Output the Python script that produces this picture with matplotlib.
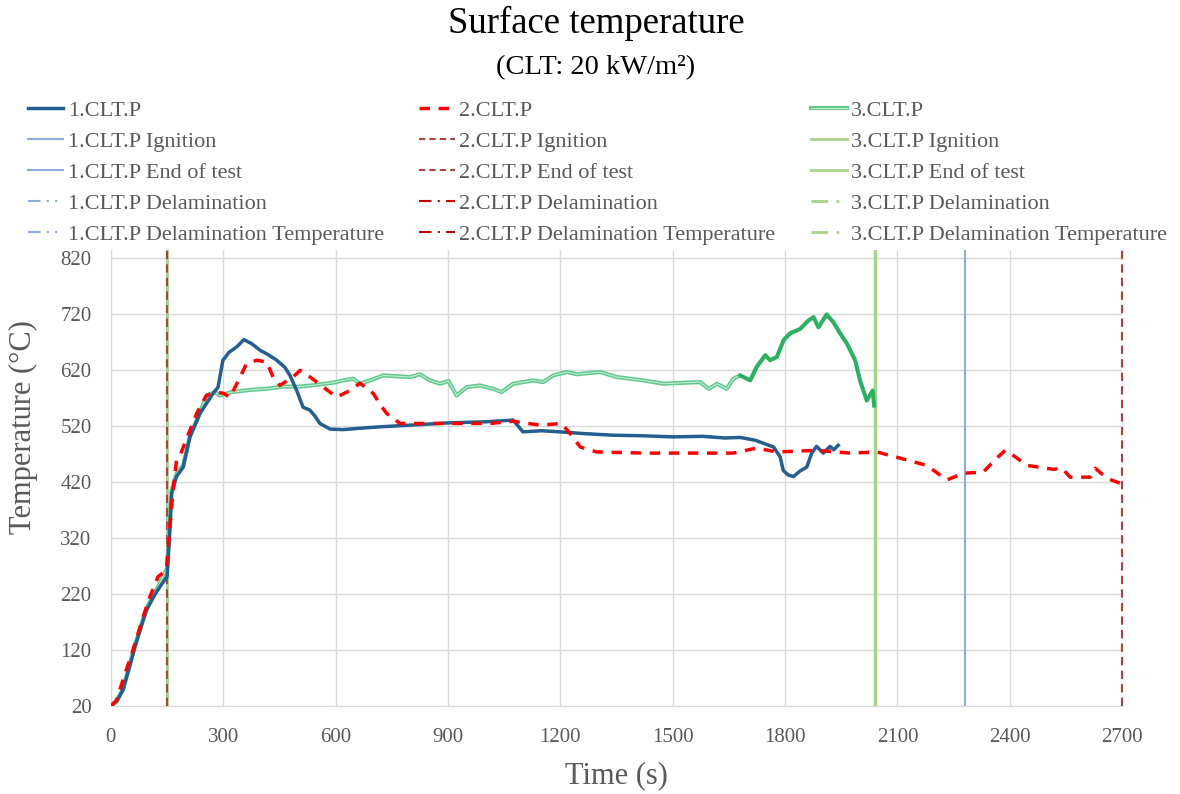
import matplotlib
matplotlib.use("Agg")
import matplotlib.pyplot as plt
from matplotlib.lines import Line2D

# data
t1 = [0, 15, 32, 50, 64, 80, 95, 110, 122, 136, 150, 156, 162, 175, 193, 211, 238, 273, 286, 299, 315, 336,
      355, 375, 398, 420, 443, 465, 478, 496, 513, 531, 545, 558, 585, 620, 656, 718, 800, 900, 1000, 1074,
      1100, 1150, 1199, 1260, 1341, 1420, 1501, 1580, 1640, 1680, 1720, 1769, 1787, 1795, 1808, 1822, 1840,
      1858, 1871, 1884, 1902, 1920, 1930, 1942]
T1 = [20, 28, 48, 90, 125, 160, 191, 210, 224, 238, 251, 320, 400, 430, 447, 501, 543, 579, 590, 638, 652, 662,
      675, 668, 656, 648, 638, 625, 611, 584, 554, 549, 538, 525, 515, 514, 516, 519, 522, 526, 528, 531,
      510, 512, 510, 507, 504, 503, 501, 502, 499, 500, 495, 483, 465, 441, 433, 430, 440,
      447, 472, 484, 472, 484, 478, 486]

t2 = [0, 15, 32, 59, 86, 104, 126, 148, 155, 165, 175, 184, 229, 255, 278, 300, 318, 345, 362, 389, 416, 433, 451,
      486, 505, 532, 567, 603, 638, 665, 700, 718, 736, 772, 896, 1012, 1074, 1146, 1203, 1226, 1253, 1297,
      1431, 1565, 1661, 1724, 1778, 1884, 1974, 2045, 2107, 2178, 2232, 2276, 2329, 2365, 2388, 2409, 2446,
      2516, 2539, 2561, 2615, 2628, 2659, 2695]
T2 = [20, 30, 66, 120, 179, 215, 251, 263, 320, 400, 459, 467, 543, 575, 581, 579, 572, 608, 632, 638, 635, 608, 593,
      608, 620, 608, 590, 572, 584, 597, 579, 560, 543, 525, 525, 525, 529, 522, 525, 507, 483, 474,
      472, 472, 472, 481, 474, 477, 472, 474, 463, 450, 424, 436, 438, 463, 477, 468, 450,
      443, 445, 429, 429, 445, 427, 418]

t3 = [0, 15, 32, 64, 95, 122, 150, 156, 162, 175, 193, 211, 238, 255, 278, 291, 322, 371, 416, 460, 505, 549,
      594, 620, 647, 665, 692, 727, 772, 799, 825, 852, 879, 901, 923, 950, 985, 1021, 1043, 1074, 1127, 1154,
      1181, 1217, 1244, 1306, 1351, 1422, 1476, 1502, 1573, 1596, 1618, 1644, 1662, 1680, 1707, 1724, 1747,
      1760, 1778, 1796, 1813, 1840, 1862, 1876, 1889, 1911, 1929, 1947, 1965, 1987, 2000, 2018, 2034, 2038]
T3 = [20, 28, 50, 128, 195, 228, 266, 330, 405, 435, 450, 503, 545, 575, 581, 575, 581, 585, 587, 591, 591, 594,
      598, 602, 605, 596, 602, 611, 609, 608, 613, 602, 596, 601, 575, 590, 593, 587, 581, 596, 602, 599,
      611, 617, 613, 617, 608, 602, 596, 597, 599, 587, 596, 587, 605, 611, 602, 626, 647,
      638, 644, 674, 686, 694, 709, 715, 697, 720, 706, 686, 668, 638, 602, 566, 584, 557]

ignition = [150, 150, 150]
end_test = [2280, 2700, 2040]

names = ["1.CLT.P", "2.CLT.P", "3.CLT.P"]

plt.rcParams["font.family"] = ["Liberation Serif"]
gray = "#595959"

fig = plt.figure(figsize=(11.8, 7.94), dpi=100)
ax = fig.add_axes([0.094, 0.111, 0.857, 0.574])

# vertical event lines
ax.axvline(ignition[0], color="#8FAADC", lw=1.5, zorder=2)
ax.axvline(end_test[0], color="#8FAADC", lw=1.5, zorder=2)
ax.axvline(ignition[2], color="#A9D18E", lw=2, zorder=2)
ax.axvline(end_test[2], color="#A9D18E", lw=2.5, zorder=2)
ax.axvline(ignition[1], color="#B0413E", lw=1.5, ls=(0, (4, 2.5)), zorder=3)
ax.axvline(end_test[1], color="#B0413E", lw=1.5, ls=(0, (4, 2.5)), zorder=3, clip_on=False)

# series (3.CLT.P drawn as a double line, darker where it gets noisy)
ax.plot(t3, T3, color="#62C98E", lw=3, zorder=4)
ax.plot(t3, T3, color="#C4EBD3", lw=0.8, zorder=4)
k = t3.index(1680)
ax.plot(t3[k:], T3[k:], color="#2EB062", lw=2.6, zorder=4)
ax.plot(t1, T1, color="#255E91", lw=2.5, zorder=5)
ax.plot(t2, T2, color="#FF0000", lw=2.5, ls=(0, (3, 2.5)), zorder=6)

ax.set_xlim(0, 2700)
ax.set_ylim(20, 835)
ax.set_xticks(range(0, 2701, 300))
ax.set_yticks(range(20, 821, 100))
ax.grid(True, color="#D9D9D9", lw=1)
ax.set_axisbelow(True)
for s in ax.spines.values():
    s.set_visible(False)
for k in ["left", "bottom"]:
    ax.spines[k].set_visible(True)
    ax.spines[k].set_color("#D9D9D9")
ax.tick_params(length=0, labelsize=15, labelcolor=gray)
ax.tick_params(axis="x", pad=16)
ax.tick_params(axis="y", pad=14)
ax.set_xlabel("Time (s)", fontsize=22, color=gray, labelpad=10)
ax.set_ylabel("Temperature (°C)", fontsize=22, color=gray)
ax.yaxis.set_label_coords(-0.072, 0.612)

fig.text(0.505, 0.992, "Surface temperature", ha="center", va="top", fontsize=26.5)
fig.text(0.505, 0.93, "(CLT: 20 kW/m²)", ha="center", va="top", fontsize=20.5)

# legend
dd = (0, (6, 3, 1, 3, 1, 3))
handles = [
    Line2D([], [], color="#255E91", lw=2.5),
    Line2D([], [], color="#8FAADC", lw=1.5),
    Line2D([], [], color="#8FAADC", lw=1.5),
    Line2D([], [], color="#8FAADC", lw=1.5, ls=dd),
    Line2D([], [], color="#8FAADC", lw=1.5, ls=dd),
    Line2D([], [], color="#FF0000", lw=2.5, ls=(0, (3, 2.5))),
    Line2D([], [], color="#B0413E", lw=1.5, ls=(0, (3, 2))),
    Line2D([], [], color="#B0413E", lw=1.5, ls=(0, (3, 2))),
    Line2D([], [], color="#C00000", lw=1.5, ls=(0, (6, 3, 1, 3))),
    Line2D([], [], color="#C00000", lw=1.5, ls=(0, (6, 3, 1, 3))),
    (Line2D([], [], color="#62C98E", lw=3), Line2D([], [], color="#C4EBD3", lw=0.8)),
    Line2D([], [], color="#A9D18E", lw=2),
    Line2D([], [], color="#A9D18E", lw=2),
    Line2D([], [], color="#A9D18E", lw=2, ls=dd),
    Line2D([], [], color="#A9D18E", lw=2, ls=dd),
]
labels = []
for n in names:
    labels += [n, n + " Ignition", n + " End of test", n + " Delamination",
               n + " Delamination Temperature"]
leg = fig.legend(handles, labels, ncol=3, loc="upper left", bbox_to_anchor=(0.0065, 0.899),
                 frameon=False, fontsize=16, handlelength=1.6, handletextpad=0.2,
                 columnspacing=1.6, labelspacing=0.47)
for txt in leg.get_texts():
    txt.set_color(gray)

fig.savefig("out.png", dpi=100)
